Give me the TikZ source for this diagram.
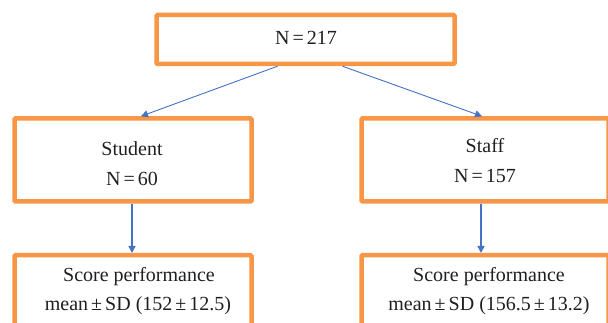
\documentclass[tikz,border=0pt]{standalone}
\usepackage{fontspec}
\setmainfont{Liberation Serif}
\usetikzlibrary{arrows.meta}
\definecolor{boxorange}{HTML}{F79646}
\definecolor{arrowblue}{HTML}{4472C4}
\newcommand{\tsp}{\kern3pt}
\begin{document}
\begin{tikzpicture}[x=1pt,y=-1pt,
  box/.style={draw=boxorange, line width=4.5pt, rounded corners=1pt, inner sep=0pt},
  txt/.style={anchor=base, font=\fontsize{20}{24}\selectfont, text=black!88},
  link/.style={draw=arrowblue, line width=0.9pt, -{Triangle[length=7pt,width=7pt]}}]
\useasboundingbox (0,0) rectangle (608,323);
\clip (0,0) rectangle (608,323);
%% top box for the whole sample
\node[box, minimum width=298pt, minimum height=49pt] (total) at (305.5,39.5) {};
\node[txt] (totaln) at (306,45) {N\tsp=\tsp217};
%% side by side boxes for the two groups
\node[box, minimum width=237pt, minimum height=83pt] (student) at (133,160) {};
\node[txt] (studentname) at (132,156) {Student};
\node[txt] (studentn) at (132,186) {N\tsp=\tsp60};
\node[box, minimum width=247pt, minimum height=83pt] (staff) at (485,160) {};
\node[txt] (staffname) at (485,153) {Staff};
\node[txt] (staffn) at (485,183) {N\tsp=\tsp157};
%% side by side boxes for the scores (cut at the bottom)
\node[box, minimum width=237pt, minimum height=100pt] (studentscore) at (133,305.25) {};
\node[txt] (studentscorea) at (139,282) {Score performance};
\node[txt] (studentscoreb) at (138,310) {mean\tsp±\tsp SD (152\tsp±\tsp12.5)};
\node[box, minimum width=247pt, minimum height=100pt] (staffscore) at (485,305.25) {};
\node[txt] (staffscorea) at (489,282) {Score performance};
\node[txt] (staffscoreb) at (489,310) {mean\tsp±\tsp SD (156.5\tsp±\tsp13.2)};
%% arrows
\draw[link] ([xshift=-28pt]total.south) -- ([xshift=8pt]student.north);
\draw[link] ([xshift=37pt]total.south) -- ([xshift=-3pt]staff.north);
\draw[link, line width=1.4pt] ([xshift=-1pt]student.south) -- ([xshift=-1pt]studentscore.north);
\draw[link, line width=1.4pt] ([xshift=-4pt]staff.south) -- ([xshift=-4pt]staffscore.north);
\end{tikzpicture}
\end{document}
